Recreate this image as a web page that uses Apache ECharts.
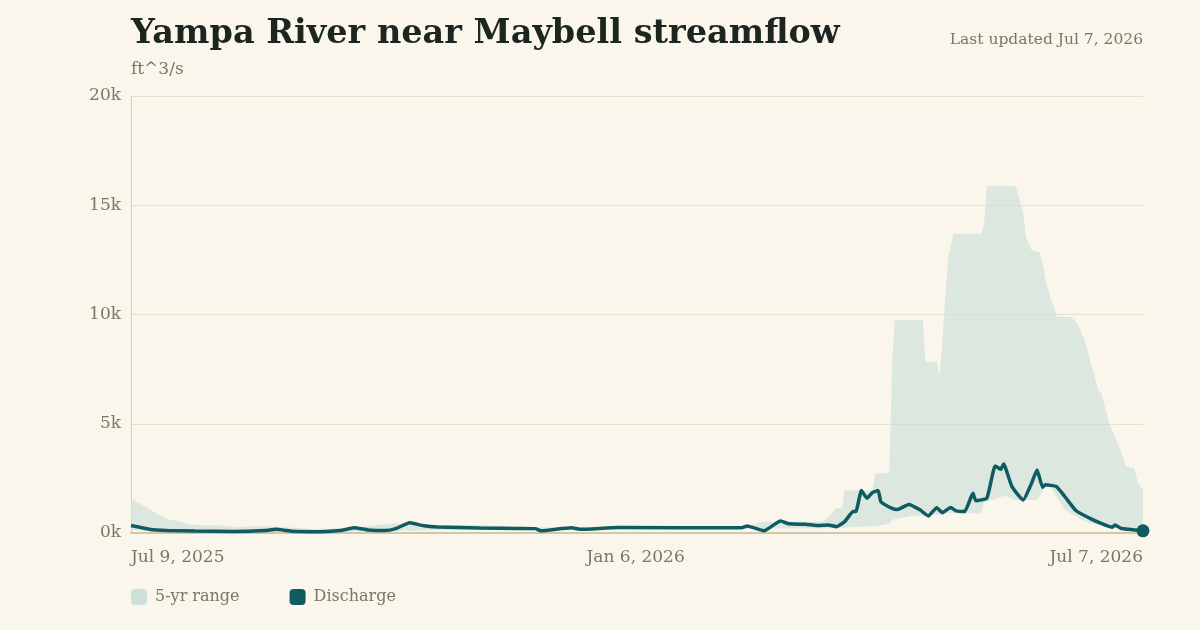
<!DOCTYPE html>
<html>
<head>
<meta charset="utf-8">
<title>Yampa River near Maybell streamflow</title>
<script src="https://cdn.jsdelivr.net/npm/echarts@6/dist/echarts.min.js"></script>
<style>
  html, body { margin: 0; padding: 0; background: #faf6ec; }
  #chart { width: 1200px; height: 630px; }
</style>
</head>
<body>
<div id="chart"></div>
<script>
// daily discharge (ft^3/s)
const dischargeDates = [
  "2025-07-09", "2025-07-16", "2025-07-22", "2025-08-01", "2025-08-15", "2025-08-26", "2025-08-30",
  "2025-09-05", "2025-09-15", "2025-09-22", "2025-09-27", "2025-10-02", "2025-10-08", "2025-10-12",
  "2025-10-17", "2025-10-22", "2025-10-27", "2025-11-11", "2025-11-25", "2025-12-01", "2025-12-03",
  "2025-12-14", "2025-12-17", "2025-12-31", "2026-02-13", "2026-02-15", "2026-02-21", "2026-02-27",
  "2026-03-02", "2026-03-08", "2026-03-12", "2026-03-16", "2026-03-19", "2026-03-22", "2026-03-25",
  "2026-03-26", "2026-03-28", "2026-03-30", "2026-04-01", "2026-04-03", "2026-04-04", "2026-04-08",
  "2026-04-10", "2026-04-14", "2026-04-18", "2026-04-21", "2026-04-24", "2026-04-26", "2026-04-29",
  "2026-05-01", "2026-05-04", "2026-05-07", "2026-05-08", "2026-05-12", "2026-05-15", "2026-05-17",
  "2026-05-18", "2026-05-21", "2026-05-25", "2026-05-28", "2026-05-30", "2026-06-01", "2026-06-02",
  "2026-06-06", "2026-06-09", "2026-06-13", "2026-06-18", "2026-06-22", "2026-06-26", "2026-06-27",
  "2026-06-29", "2026-07-07"
];
const dischargeValues = [
  340, 160, 120, 90, 70, 110, 170,
  80, 60, 110, 240, 140, 110, 200,
  470, 330, 280, 230, 210, 200, 100,
  240, 170, 250, 240, 320, 100, 550,
  420, 400, 340, 370, 290, 520, 980,
  980, 1940, 1590, 1860, 1940, 1430, 1130,
  1080, 1310, 1060, 780, 1160, 930, 1170,
  1010, 980, 1820, 1480, 1600, 3070, 2920,
  3160, 2120, 1510, 2270, 2880, 2090, 2210,
  2120, 1660, 1020, 670, 440, 260, 370,
  215, 100
];

// 5-year range (min / max)
const bandDates = [
  "2025-07-09", "2025-07-11", "2025-07-15", "2025-07-19", "2025-07-22", "2025-07-28", "2025-07-30",
  "2025-08-11", "2025-08-15", "2025-08-23", "2025-09-02", "2025-09-12", "2025-09-26", "2025-10-10",
  "2025-10-20", "2025-10-27", "2025-11-11", "2025-11-22", "2025-12-03", "2025-12-14", "2025-12-31",
  "2026-02-13", "2026-02-21", "2026-03-14", "2026-03-16", "2026-03-19", "2026-03-21", "2026-03-22",
  "2026-03-26", "2026-04-01", "2026-04-02", "2026-04-03", "2026-04-07", "2026-04-08", "2026-04-09",
  "2026-04-15", "2026-04-19", "2026-04-20", "2026-04-24", "2026-04-25", "2026-04-26", "2026-04-27",
  "2026-04-28", "2026-04-30", "2026-05-10", "2026-05-11", "2026-05-12", "2026-05-14", "2026-05-19",
  "2026-05-20", "2026-05-22", "2026-05-23", "2026-05-25", "2026-05-26", "2026-05-28", "2026-05-30",
  "2026-05-31", "2026-06-01", "2026-06-02", "2026-06-04", "2026-06-05", "2026-06-06", "2026-06-09",
  "2026-06-11", "2026-06-13", "2026-06-14", "2026-06-16", "2026-06-18", "2026-06-21", "2026-06-22",
  "2026-06-25", "2026-06-28", "2026-07-01", "2026-07-04", "2026-07-05", "2026-07-07"
];
const bandLow = [
  150, 140, 120, 100, 90, 70, 60,
  55, 50, 50, 50, 55, 70, 90,
  120, 140, 150, 150, 150, 170, 200,
  200, 205, 210, 215, 220, 230, 240,
  290, 310, 320, 320, 420, 590, 640,
  780, 800, 820, 840, 850, 860, 880,
  900, 900, 900, 1430, 1460, 1510, 1740,
  1600, 1510, 1510, 1510, 1510, 1510, 1510,
  1700, 1890, 2250, 2050, 1900, 1660, 1050,
  900, 760, 670, 560, 450, 370, 340,
  280, 215, 190, 170, 150, 140
];
const bandHigh = [
  1590, 1430, 1130, 820, 630, 490, 380,
  330, 260, 320, 260, 180, 220, 440,
  420, 370, 370, 290, 250, 260, 280,
  290, 520, 520, 700, 1140, 1140, 1940,
  1940, 1940, 2730, 2730, 2730, 7600, 9750,
  9750, 9750, 7840, 7840, 7150, 8680, 10510,
  12490, 13690, 13690, 14100, 15880, 15880, 15880,
  15880, 15880, 15620, 14630, 13560, 12950, 12870,
  12870, 12340, 11600, 10660, 10360, 9900, 9900,
  9900, 9670, 9400, 8830, 7920, 6540, 6410,
  4940, 4100, 3030, 2960, 2350, 1970
];

const yTicks = [0, 5000, 10000, 15000, 20000];
const xTickDates = ["2025-07-09", "2026-01-06", "2026-07-07"];

const months = ["Jan", "Feb", "Mar", "Apr", "May", "Jun", "Jul", "Aug", "Sep", "Oct", "Nov", "Dec"];
const toTime = (s) => {
  const [y, m, d] = s.split("-").map(Number);
  return new Date(y, m - 1, d).getTime();
};
const fmtDate = (t) => {
  const d = new Date(t);
  return months[d.getMonth()] + " " + d.getDate() + ", " + d.getFullYear();
};

const serif = "Georgia, 'DejaVu Serif', serif";
const muted = "#7b7666";
const lineColor = "#0f5b62";
const bandColor = "#cfe0da";

const chart = echarts.init(document.getElementById("chart"), undefined, { renderer: "canvas" });

const lastIdx = dischargeDates.length - 1;

chart.setOption({
  animation: false,
  backgroundColor: "#faf6ec",
  textStyle: { fontFamily: serif },
  title: [
    {
      text: "Yampa River near Maybell streamflow",
      subtext: "ft^3/s",
      left: 131,
      top: 17,
      padding: 0,
      itemGap: 10,
      textStyle: { fontFamily: serif, fontSize: 33.5, fontWeight: "bold", color: "#1d2521" },
      subtextStyle: { fontFamily: serif, fontSize: 17, color: muted },
    },
    {
      text: "Last updated " + fmtDate(toTime(dischargeDates[lastIdx])),
      right: 57,
      top: 32,
      padding: 0,
      textStyle: { fontFamily: serif, fontSize: 15.5, fontWeight: "normal", color: muted },
    },
  ],
  legend: {
    left: 131,
    top: 589,
    padding: 0,
    itemWidth: 16,
    itemHeight: 16,
    itemGap: 50,
    icon: "roundRect",
    data: ["5-yr range", "Discharge"],
    textStyle: { fontFamily: serif, fontSize: 16, color: muted, padding: [0, 0, 0, 3] },
  },
  grid: {
    left: 131,
    right: 57,
    top: 96,
    bottom: 97,
  },
  xAxis: {
    type: "value",
    min: toTime(xTickDates[0]),
    max: toTime(xTickDates[xTickDates.length - 1]),
    z: 4,
    axisLine: { lineStyle: { color: "#d5c7a4", width: 2 } },
    axisTick: { show: false },
    splitLine: { show: false },
    axisLabel: {
      customValues: xTickDates.map(toTime),
      formatter: (v) => fmtDate(v),
      color: muted,
      fontFamily: serif,
      fontSize: 17,
      margin: 16,
      alignMinLabel: "left",
      alignMaxLabel: "right",
    },
  },
  yAxis: {
    type: "value",
    min: yTicks[0],
    max: yTicks[yTicks.length - 1],
    interval: 5000,
    axisLine: { show: true, lineStyle: { color: "#d9cdb0", width: 1 } },
    axisTick: { show: false },
    axisLabel: {
      color: muted,
      fontFamily: serif,
      fontSize: 17,
      margin: 10,
      formatter: (v) => v / 1000 + "k",
    },
    splitLine: { lineStyle: { color: "#e9e1cd", width: 1 } },
  },
  series: [
    {
      name: "5-yr range",
      type: "custom",
      silent: true,
      itemStyle: { color: bandColor },
      encode: { x: 0, y: [1, 2] },
      data: bandDates.map((d, i) => [toTime(d), bandLow[i], bandHigh[i]]),
      renderItem: (params, api) => {
        if (params.dataIndex !== 0) {
          return null;
        }
        const upper = bandDates.map((d, i) => api.coord([toTime(d), bandHigh[i]]));
        const lower = bandDates.map((d, i) => api.coord([toTime(d), bandLow[i]])).reverse();
        return {
          type: "polygon",
          shape: { points: upper.concat(lower) },
          style: { fill: bandColor, opacity: 0.72 },
        };
      },
      z: 1,
    },
    {
      name: "Discharge",
      type: "line",
      symbol: "none",
      smooth: 0.15,
      itemStyle: { color: lineColor },
      lineStyle: { color: lineColor, width: 3.5 },
      data: dischargeDates.map((d, i) => [toTime(d), dischargeValues[i]]),
      z: 5,
    },
    {
      name: "latest",
      type: "scatter",
      symbolSize: 13,
      itemStyle: { color: lineColor, opacity: 1 },
      data: [[toTime(dischargeDates[lastIdx]), dischargeValues[lastIdx]]],
      z: 6,
    },
  ],
});
</script>
</body>
</html>
